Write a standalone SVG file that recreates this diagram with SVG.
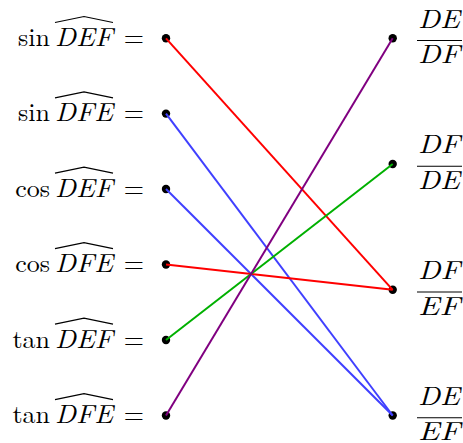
<svg xmlns="http://www.w3.org/2000/svg" width="463" height="443" viewBox="0 0 463 443">
<style>
text{font-family:"Latin Modern Roman","Liberation Serif","DejaVu Serif",serif;font-size:26px;fill:#000}
.fn{text-anchor:end}
.it{font-style:italic}
.eq{text-anchor:end}
.hat{fill:none;stroke:#000;stroke-width:1.2}
.bar{stroke:#000;stroke-width:1.1}
.dot{fill:#000}
.c{fill:none;stroke-width:2}
.fr{font-style:italic}
</style>
<rect width="463" height="443" fill="#fff"/>
<g id="l1"><text class="fn" x="50" y="46">sin</text><text class="it" x="55" y="46" textLength="58" lengthAdjust="spacingAndGlyphs">DEF</text><text class="eq" x="144" y="46">=</text><path class="hat" d="M55,22.5 L84,16.5 L113,22.5"/><circle class="dot" cx="166" cy="38.3" r="4.2"/></g>
<g id="l2"><text class="fn" x="50" y="121.3">sin</text><text class="it" x="55" y="121.3" textLength="58" lengthAdjust="spacingAndGlyphs">DFE</text><text class="eq" x="144" y="121.3">=</text><path class="hat" d="M55,97.8 L84,91.8 L113,97.8"/><circle class="dot" cx="166" cy="113.6" r="4.2"/></g>
<g id="l3"><text class="fn" x="50" y="196.7">cos</text><text class="it" x="55" y="196.7" textLength="58" lengthAdjust="spacingAndGlyphs">DEF</text><text class="eq" x="144" y="196.7">=</text><path class="hat" d="M55,173.2 L84,167.2 L113,173.2"/><circle class="dot" cx="166" cy="189" r="4.2"/></g>
<g id="l4"><text class="fn" x="50" y="272.2">cos</text><text class="it" x="55" y="272.2" textLength="58" lengthAdjust="spacingAndGlyphs">DFE</text><text class="eq" x="144" y="272.2">=</text><path class="hat" d="M55,248.7 L84,242.7 L113,248.7"/><circle class="dot" cx="166" cy="264.5" r="4.2"/></g>
<g id="l5"><text class="fn" x="50" y="347.7">tan</text><text class="it" x="55" y="347.7" textLength="58" lengthAdjust="spacingAndGlyphs">DEF</text><text class="eq" x="144" y="347.7">=</text><path class="hat" d="M55,324.2 L84,318.2 L113,324.2"/><circle class="dot" cx="166" cy="340" r="4.2"/></g>
<g id="l6"><text class="fn" x="50" y="423.2">tan</text><text class="it" x="55" y="423.2" textLength="58" lengthAdjust="spacingAndGlyphs">DFE</text><text class="eq" x="144" y="423.2">=</text><path class="hat" d="M55,399.7 L84,393.7 L113,399.7"/><circle class="dot" cx="166" cy="415.5" r="4.2"/></g>
<g id="r1"><circle class="dot" cx="392.7" cy="38.3" r="4.2"/><text class="fr" x="418" y="27.5" textLength="42" lengthAdjust="spacingAndGlyphs">DE</text><line class="bar" x1="417" y1="40.5" x2="462" y2="40.5"/><text class="fr" x="418" y="63" textLength="42" lengthAdjust="spacingAndGlyphs">DF</text></g>
<g id="r2"><circle class="dot" cx="392.7" cy="164" r="4.2"/><text class="fr" x="418" y="153.2" textLength="42" lengthAdjust="spacingAndGlyphs">DF</text><line class="bar" x1="417" y1="166.2" x2="462" y2="166.2"/><text class="fr" x="418" y="188.7" textLength="42" lengthAdjust="spacingAndGlyphs">DE</text></g>
<g id="r3"><circle class="dot" cx="392.7" cy="289.8" r="4.2"/><text class="fr" x="418" y="279" textLength="42" lengthAdjust="spacingAndGlyphs">DF</text><line class="bar" x1="417" y1="292" x2="462" y2="292"/><text class="fr" x="418" y="314.5" textLength="42" lengthAdjust="spacingAndGlyphs">EF</text></g>
<g id="r4"><circle class="dot" cx="392.7" cy="415.5" r="4.2"/><text class="fr" x="418" y="404.7" textLength="42" lengthAdjust="spacingAndGlyphs">DE</text><line class="bar" x1="417" y1="417.7" x2="462" y2="417.7"/><text class="fr" x="418" y="440" textLength="42" lengthAdjust="spacingAndGlyphs">EF</text></g>
<g id="connectors">
<line class="c" stroke="#ff0000" x1="166" y1="38.3" x2="392.7" y2="289.8"/>
<line class="c" stroke="#4040ff" x1="166" y1="113.6" x2="392.7" y2="415.5"/>
<line class="c" stroke="#4040ff" x1="166" y1="189" x2="392.7" y2="415.5"/>
<line class="c" stroke="#ff0000" x1="166" y1="264.5" x2="392.7" y2="289.8"/>
<line class="c" stroke="#00b000" x1="166" y1="340" x2="392.7" y2="164"/>
<line class="c" stroke="#800080" x1="166" y1="415.5" x2="392.7" y2="38.3"/>
</g>
</svg>
